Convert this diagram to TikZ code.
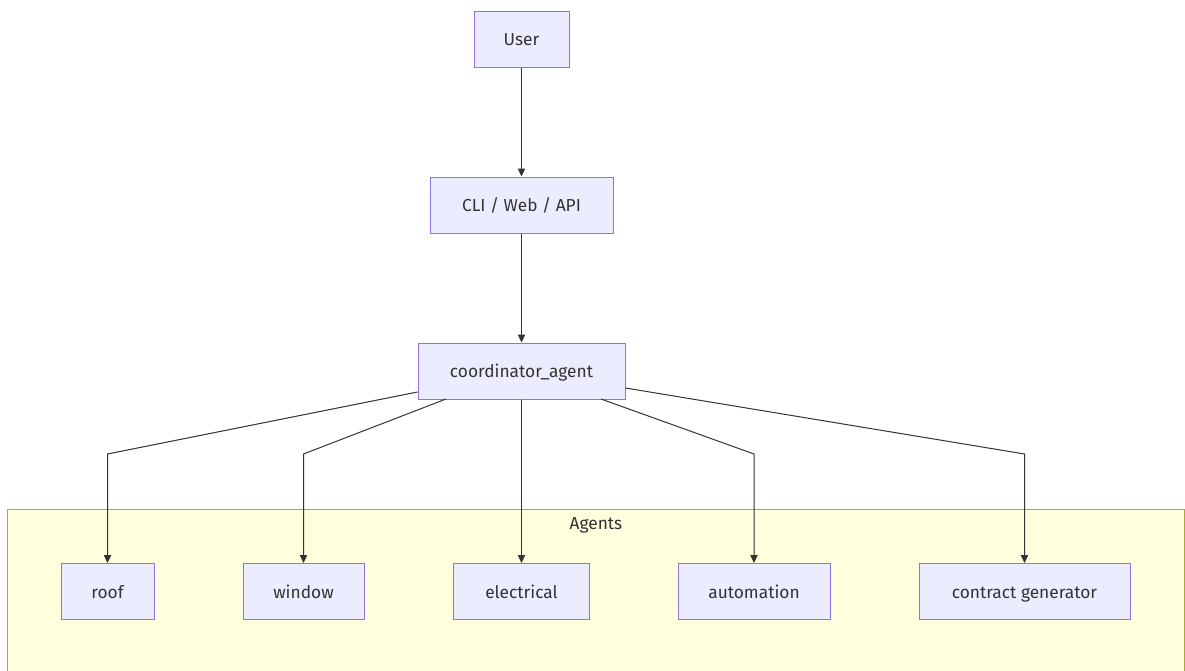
\documentclass[tikz,border=0pt]{standalone}
\usepackage{fontspec}
\setmainfont{Fira Sans}
\usetikzlibrary{arrows.meta}
\definecolor{nodefill}{HTML}{ECECFF}
\definecolor{nodeline}{HTML}{9370DB}
\definecolor{groupfill}{HTML}{FFFFDE}
\definecolor{groupline}{HTML}{AAAA33}
\definecolor{ink}{HTML}{333333}
\tikzset{
  label font/.style={text=ink, font=\fontsize{13}{15}\selectfont,
    text height=11pt, text depth=1pt},
  box/.style={draw=nodeline, fill=nodefill, line width=0.75pt, label font,
    inner sep=0pt, minimum height=42pt},
  link/.style={draw=ink, line width=0.75pt, -{Triangle[length=6pt,width=5.5pt]}},
}
\begin{document}
\begin{tikzpicture}[x=0.75pt,y=-0.75pt]
\useasboundingbox (0,0) rectangle (1185,671);
% group of agents
\draw[draw=groupline, fill=groupfill, line width=0.75pt] (7,509) rectangle (1184,700);
\node[label font, inner sep=0pt] (agents) at (596,523) {Agents};
% main chain
\node[box, minimum width=71.25pt] (user) at (521.5,39) {User};
\node[box, minimum width=137.25pt] (cli) at (521.5,205) {CLI / Web / API};
\node[box, minimum width=155.25pt] (coord) at (521.5,371) {coordinator\_agent};
% agents
\node[box, minimum width=69.75pt] (roof) at (107.5,591.5) {roof};
\node[box, minimum width=90.75pt] (window) at (303.5,591.5) {window};
\node[box, minimum width=102pt] (elec) at (521.5,591.5) {electrical};
\node[box, minimum width=114pt] (auto) at (754,591.5) {automation};
\node[box, minimum width=158.25pt] (contract) at (1024.5,591.5) {contract generator};
% connectors
\draw[link] (user) -- (cli);
\draw[link] (cli) -- (coord);
\draw[link] (coord.west |- 0,392) -- (107.5,454) -- (roof);
\draw[link] (446,399) -- (303.5,454) -- (window);
\draw[link] (coord) -- (elec);
\draw[link] (601,399) -- (754,454) -- (auto);
\draw[link] (coord.east |- 0,388) -- (1024.5,454) -- (contract);
\end{tikzpicture}
\end{document}
